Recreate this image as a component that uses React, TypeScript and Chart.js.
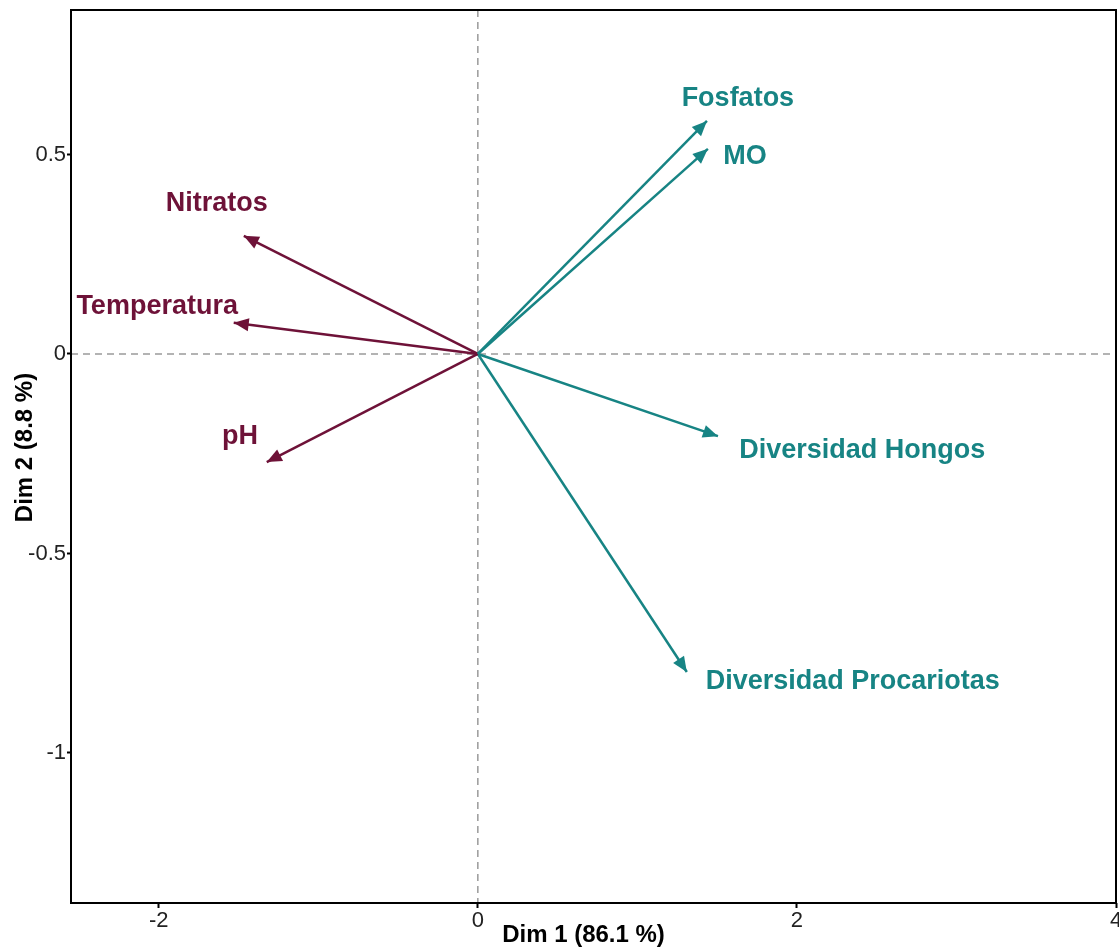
import React, { useEffect, useRef } from "react";
import { Chart, registerables } from "chart.js";

Chart.register(...registerables);

const variables = ["Fosfatos", "MO", "Nitratos", "Temperatura", "pH", "Diversidad Hongos", "Diversidad Procariotas"];
const dim1 = [1.436, 1.442, -1.467, -1.53, -1.323, 1.505, 1.31];
const dim2 = [0.584, 0.514, 0.296, 0.078, -0.271, -0.206, -0.797];
const groups = ["suelo", "suelo", "clima", "clima", "clima", "suelo", "suelo"];
const labelDim1 = [1.63, 1.674, -1.636, -2.01, -1.49, 2.41, 2.35];
const labelDim2 = [0.639, 0.494, 0.378, 0.12, -0.208, -0.241, -0.82];
const xTicks = [-2, 0, 2, 4];
const yTicks = [-1, -0.5, 0, 0.5];
const xTitle = "Dim 1 (86.1 %)";
const yTitle = "Dim 2 (8.8 %)";

const groupColors: Record<string, string> = { suelo: "#178484", clima: "#6e1238" };
const FONT = "'Liberation Sans', Arial, sans-serif";

export default function App() {
  const ref = useRef<HTMLCanvasElement | null>(null);
  useEffect(() => {
    if (!ref.current) return;
    const datasets = variables.map((v, i) => ({
      label: v,
      data: [
        { x: 0, y: 0 },
        { x: dim1[i], y: dim2[i] },
      ],
      showLine: true,
      borderColor: groupColors[groups[i]],
      backgroundColor: groupColors[groups[i]],
      borderWidth: 2.5,
      pointRadius: 0,
    }));

    const decor = {
      id: "decor",
      beforeDatasetsDraw(chart: any) {
        const { ctx, chartArea: a, scales } = chart;
        const x0 = scales.x.getPixelForValue(0);
        const y0 = scales.y.getPixelForValue(0);
        ctx.save();
        ctx.strokeStyle = "#9a9a9a";
        ctx.lineWidth = 1.5;
        ctx.setLineDash([7, 5]);
        ctx.beginPath();
        ctx.moveTo(x0, a.top);
        ctx.lineTo(x0, a.bottom);
        ctx.moveTo(a.left, y0);
        ctx.lineTo(a.right, y0);
        ctx.stroke();
        ctx.restore();
      },
      afterDatasetsDraw(chart: any) {
        const { ctx, scales } = chart;
        ctx.save();
        chart.data.datasets.forEach((ds: any, i: number) => {
          const meta = chart.getDatasetMeta(i);
          const p0 = meta.data[0];
          const p1 = meta.data[1];
          const ang = Math.atan2(p1.y - p0.y, p1.x - p0.x);
          const len = 15;
          const half = 6.5;
          const bx = p1.x - len * Math.cos(ang);
          const by = p1.y - len * Math.sin(ang);
          ctx.fillStyle = ds.borderColor;
          ctx.beginPath();
          ctx.moveTo(p1.x, p1.y);
          ctx.lineTo(bx + half * Math.sin(ang), by - half * Math.cos(ang));
          ctx.lineTo(bx - half * Math.sin(ang), by + half * Math.cos(ang));
          ctx.closePath();
          ctx.fill();
          ctx.font = `bold 27px ${FONT}`;
          ctx.textAlign = "center";
          ctx.textBaseline = "middle";
          ctx.fillText(
            variables[i],
            scales.x.getPixelForValue(labelDim1[i]),
            scales.y.getPixelForValue(labelDim2[i])
          );
        });
        ctx.restore();
      },
      afterDraw(chart: any) {
        const { ctx, chartArea: a } = chart;
        ctx.save();
        ctx.strokeStyle = "#000";
        ctx.lineWidth = 2;
        ctx.strokeRect(a.left, a.top, a.right - a.left, a.bottom - a.top);
        ctx.fillStyle = "#000";
        ctx.font = `bold 24px ${FONT}`;
        ctx.textAlign = "center";
        ctx.textBaseline = "middle";
        ctx.fillText(xTitle, (a.left + a.right) / 2 - 10, 935);
        ctx.translate(25, (a.top + a.bottom) / 2 - 9);
        ctx.rotate(-Math.PI / 2);
        ctx.fillText(yTitle, 0, 0);
        ctx.restore();
      },
    };

    const chart = new Chart(ref.current, {
      type: "scatter",
      data: { datasets },
      options: {
        animation: false,
        responsive: false,
        layout: { padding: { left: 0, right: 3, top: 10, bottom: 0 } },
        plugins: { legend: { display: false }, tooltip: { enabled: false } },
        scales: {
          x: {
            type: "linear",
            min: -2.55,
            max: 4,
            border: { display: false },
            grid: { drawOnChartArea: false, drawTicks: true, tickLength: 5, tickColor: "#000", tickWidth: 2 },
            ticks: {
              color: "#222",
              font: { family: FONT, size: 22 },
              padding: 0,
              callback: (v: any) => String(v),
            },
            afterBuildTicks: (s: any) => {
              s.ticks = xTicks.map((v) => ({ value: v }));
            },
            afterFit: (s: any) => {
              s.height = 46;
              s.paddingLeft = 0;
              s.paddingRight = 0;
            },
          },
          y: {
            type: "linear",
            min: -1.376,
            max: 0.862,
            border: { display: false },
            grid: { drawOnChartArea: false, drawTicks: true, tickLength: 4, tickColor: "#000", tickWidth: 2 },
            ticks: {
              color: "#222",
              font: { family: FONT, size: 22 },
              padding: 1,
              callback: (v: any) => String(v),
            },
            afterBuildTicks: (s: any) => {
              s.ticks = yTicks.map((v) => ({ value: v }));
            },
            afterFit: (s: any) => {
              s.width = 71;
              s.paddingTop = 0;
              s.paddingBottom = 0;
            },
          },
        },
      },
      plugins: [decor],
    });
    return () => chart.destroy();
  }, []);

  return (
    <div style={{ position: "absolute", left: 0, top: 0, width: 1119, height: 949, background: "#fff" }}>
      <canvas ref={ref} width={1119} height={949} />
    </div>
  );
}
